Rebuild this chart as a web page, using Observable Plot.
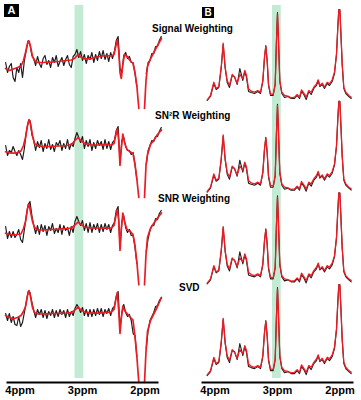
<!DOCTYPE html>
<html><head><meta charset="utf-8">
<script src="https://cdn.jsdelivr.net/npm/d3@7"></script>
<script src="https://cdn.jsdelivr.net/npm/@observablehq/plot@0.6"></script>
<style>
html,body{margin:0;padding:0;background:#fff;}
#wrap{position:relative;width:361px;height:400px;font-family:"Liberation Sans",Arial,sans-serif;overflow:hidden}
#wrap svg{position:absolute;left:0;top:0;overflow:visible}
.lbl{position:absolute;font-size:10px;font-weight:bold;line-height:10px;white-space:nowrap;color:#000}
.tag{position:absolute;background:#000;color:#fff;font-weight:bold;text-align:center}
</style></head><body><div id="wrap"></div>
<script>
// ---------- data ----------
const panels = ["A", "B"];
const rowNames = ["Signal Weighting", "SN²R Weighting", "SNR Weighting", "SVD"];
const tickPpm = [4, 3, 2];
const bandStart = [3.12, 3.08];
const bandEnd = [2.98, 2.94];

// Panel A: smooth (red) curves
const ppmARed = [4.232, 4.168, 4.104, 4.04, 3.984, 3.944, 3.912, 3.88, 3.856, 3.832, 3.8, 3.768, 3.72, 3.64, 3.512, 3.384, 3.256, 3.176, 3.12, 3.072, 3.024, 2.968, 2.872, 2.744, 2.616, 2.536, 2.496, 2.464, 2.443, 2.421, 2.4, 2.379, 2.355, 2.328, 2.288, 2.24, 2.192, 2.16, 2.128, 2.099, 2.056, 2.008, 1.984, 1.96, 1.912, 1.856, 1.8, 1.736];
const redASignal = [-7, -9, -7.5, -6, -4.5, 1, 9, 18, 20.5, 15, 5, 1, -1, -1, -0.7, 0, 1, 1.5, 3.5, 7, 4.5, 2.7, 2.7, 5, 6, 5.5, 7, 16, 21.5, 11, -11, -17, -3, 7, 5, 1, -2, -11, -26, -47, null, -47, -19, -5, 2.7, 9.5, 16, 23];
const redASN2R = [-6.3, -7.5, -7.7, -7, -5.5, 0, 8, 20, 26, 22, 10, 2, -0.3, -1, -1, -0.5, 0, 1, 5, 8, 5, 2, 0.5, 0.5, 1, 0.5, 2, 11, 16.5, 5, -20, -3, 11.5, 3, -4, -6.3, -8, -19, -35, -52, null, -52, -20, -9, 1, 5.5, 11, 15.5];
const redASNR = [-3.7, -5, -5.3, -5, -4.5, 1, 8, 21, 25.5, 18, 8, 2, -0.3, -0.5, 0, 0.5, 1, 1.5, 4.5, 7.3, 5, 2.5, 1.5, 1.5, 1.3, 1.5, 4, 14, 20, 9, -21, 0, 16.5, 8, 0, -1.5, -5, -16, -34, -55.3, null, -55.3, -25, -8, 1.3, 6.5, 11.5, 16.5];
const redASVD = [-2, -4, -5.3, -4, -2, 2, 7, 18, 23, 17, 6, 1, -0.3, -0.5, 0, 0, 0.5, 1, 3.5, 6.3, 3.5, 1.5, 0.5, 0.3, 1, 1.5, 4, 15, 21, 3, -20, -5, 7.5, 3, 0, -3.5, -6.5, -23, -45, -69, null, -69, -38, -18, -7, 0, 7, 16];

// Panel A: noisy (black) curves
const ppmABlack = [4.23, 4.20, 4.17, 4.14, 4.11, 4.08, 4.05, 4.02, 3.99, 3.96, 3.93, 3.90, 3.87, 3.84, 3.81, 3.78, 3.75, 3.72, 3.69, 3.66, 3.63, 3.60, 3.57, 3.54, 3.51, 3.48, 3.45, 3.42, 3.39, 3.36, 3.33, 3.30, 3.27, 3.24, 3.21, 3.18, 3.15, 3.12, 3.09, 3.06, 3.03, 3.00, 2.97, 2.94, 2.91, 2.88, 2.85, 2.82, 2.79, 2.76, 2.73, 2.70, 2.67, 2.64, 2.61, 2.58, 2.55, 2.52, 2.49, 2.46, 2.43, 2.40, 2.37, 2.34, 2.31, 2.28, 2.25, 2.22, 2.19, 2.16, 2.13, 2.10, 2.07, 2.04, 2.01, 1.98, 1.95, 1.92, 1.89, 1.86, 1.83, 1.80, 1.77, 1.74];
const blackASignal = [-1, -11, -5, -2, -16, -20, -6, -11, -2, -16, 1, 11, 21, 17, 6, 3,
  -4, 5, -2, -6, 3, 6, -3, 1, -6, 4, -1, 6, -5, 0, 4, -4, 2, 6, -3, -6, 5, 7, 12, 4, 10, 1, 7, -2, 6, 2, 9, -1, 7, 1, 10, 3, 11, 2, 8, 0, 9, 3, 10,
  21, 25, -7, -11, 6, 9, 3, 5, -1, -1, -12, -25, null, null, null, null, -12, -1, 1, 8, 8, 15, 15, 21, 25];
const blackASN2R = [0, -10, -5, -7, -1, -6, -10, -5, -9, -14, -3, 13, 23, 25, 11, 5,
  -5, 4, -2, 5, -6, 2, -3, 6, -4, 1, -6, 3, 0, 5, -5, 2, -3, 6, -4, 2, -1, 7, 13, 8, 3, 9, -3, 5, -1, 6, -5, 3, -3, 5, 0, 4, -4, 6, -3, 4, -4, 3, 5,
  15, 19, -17, 5, 8, -1, -5, -5, -9, -7, -19, -34, null, null, null, null, -19, -5, 0, 5, 4, 9, 9, 14, 18];
const blackASNR = [3, -9, -2, -8, -2, -8, -5, 0, -10, -13, 0, 13, 25, 28, 14, 4,
  -4, 4, -5, 5, -2, 4, -6, 3, -1, 6, -4, 1, -3, 5, -5, 4, -1, 2, -6, 3, -3, 8, 13, 8, 4, 9, -1, 6, -3, 7, -3, 5, 0, 6, -3, 5, -2, 6, 0, 5, -3, 4, 7,
  19, 23, -18, 8, 14, 2, -3, 0, -6, -6, -18, -34, null, null, null, null, -22, -9, -1, 4, 4, 11, 10, 16, 19];
const blackASVD = [0, -7, 0, -9, -3, -11, -12, -3, -13, -9, 1, 11, 22, 21, 11, 3,
  -4, 4, -1, 4, -4, 3, -5, 2, -2, 4, -4, 3, -3, 4, -1, 3, -4, 4, -3, 2, -2, 5, 9, 6, 1, 6, -2, 4, -3, 4, -3, 4, -2, 5, -1, 5, -3, 4, 0, 5, -2, 5, 7,
  17, 22, -15, 1, 9, 1, -3, -1, -7, -20, -22, -43, null, null, null, null, -35, -17, -7, -3, 1, 7, 8, 13, 16];

// Panel B: spectrum (same in every row)
const ppmB = [4.125, 4.072, 4.019, 3.981, 3.939, 3.901, 3.869, 3.837, 3.805, 3.768, 3.725, 3.688, 3.645, 3.603, 3.555, 3.523, 3.496, 3.464, 3.421, 3.368, 3.315, 3.272, 3.235, 3.208, 3.187, 3.165, 3.144, 3.112, 3.069, 3.037, 3.016, 3.0, 2.984, 2.963, 2.931, 2.888, 2.835, 2.781, 2.728, 2.685, 2.648, 2.616, 2.579, 2.541, 2.499, 2.461, 2.419, 2.376, 2.349, 2.323, 2.285, 2.248, 2.205, 2.168, 2.125, 2.088, 2.056, 2.035, 2.019, 2.003, 1.987, 1.965, 1.939, 1.907, 1.859, 1.821];
const redB = [-2.3, 2, 15.3, 9, 11, 30.3, 54.3, 30.3, 17, 12, 23, 20.3, 14.3, 23, 19, 27, 22, 8.7, 6.3, 5.3, 7, 5.3, 17, 40.3, 51, 37, 13.7, 3.7, 3, 13.7, 57, 83.7, 57, 17, 5.3, 2, 1.3, -0.3, 0.3, 3, 0.3, 7.7, 4.3, 0.3, 7, 5.3, 10.3, 13.7, 17.7, 12, 14.3, 10.3, 15.3, 13.7, 17.7, 25.3, 43.7, 70.3, 87.7, 87.7, 67, 33.7, 10.3, 5.3, 2, 0.3];
const blackB = [-3, 1, 14, 8, 10, 29, 53, 29, 15, 10, 22, 21, 13, 29, 17, 26, 20, 6, 5, 4, 6, 4, 16, 40, 52, 36, 12, 2, 2, 13, 58, 85, 56, 16, 4, 0, 1, -1, -1, 2, -1, 6, 3, -2, 6, 3, 9, 12, 17, 11, 13, 9, 14, 12, 16, 24, 43, 70, 88, 88, 66, 33, 9, 4, 1, -1];

// ---------- layout ----------
const stepA = 84, topA = 321;      // row stacking offsets (y units)
const stepB = 91.7, topB = 285;
const labelPos = [[152, 23.5], [155, 110.5], [158, 193.5], [179, 282.5]];

const redA = [redASignal, redASN2R, redASNR, redASVD];
const blackA = [blackASignal, blackASN2R, blackASNR, blackASVD];

function build(panel, ppm, values, row, base) {
  return ppm.map((p, k) => ({panel, row, ppm: p, y: values[k] == null ? null : values[k] + base}));
}
const blackData = [], redData = [];
rowNames.forEach((name, i) => {
  blackData.push(...build("A", ppmABlack, blackA[i], name, topA - stepA * i));
  redData.push(...build("A", ppmARed, redA[i], name, topA - stepA * i));
  blackData.push(...build("B", ppmB, blackB, name, topB - stepB * i));
  redData.push(...build("B", ppmB, redB, name, topB - stepB * i));
});
const bands = panels.map((p, i) => ({panel: p, x1: bandStart[i], x2: bandEnd[i]}));

const chart = Plot.plot({
  width: 361, height: 400,
  marginLeft: 7, marginRight: 9, marginTop: 5, marginBottom: 18,
  style: {fontFamily: "'Liberation Sans', Arial, sans-serif", background: "transparent", overflow: "visible"},
  fx: {domain: panels, padding: 0.2308, axis: null},
  x: {domain: [4.2, 1.8]},
  y: {domain: [0, 377], axis: null},
  marks: [
    Plot.rectX(bands, {x1: "x1", x2: "x2", fx: "panel", fill: "#c3ebd3", insetBottom: 4}),
    Plot.line(blackData.filter(d => d.panel === "A"), {x: "ppm", y: "y", z: "row", fx: "panel", stroke: "#1c1c1c", strokeWidth: 1.2, strokeLinejoin: "round"}),
    Plot.line(blackData.filter(d => d.panel === "B"), {x: "ppm", y: "y", z: "row", fx: "panel", stroke: "#1c1c1c", strokeWidth: 1.1, strokeLinejoin: "round"}),
    Plot.line(redData.filter(d => d.panel === "A"), {x: "ppm", y: "y", z: "row", fx: "panel", stroke: "#ed1c24", strokeWidth: 1.7, strokeLinejoin: "round"}),
    Plot.line(redData.filter(d => d.panel === "B"), {x: "ppm", y: "y", z: "row", fx: "panel", stroke: "#ed1c24", strokeWidth: 1.3, strokeLinejoin: "round"}),
    Plot.frame({anchor: "bottom", stroke: "#000", strokeWidth: 2}),
    Plot.axisX({ticks: tickPpm, tickFormat: d => d + "ppm", tickSize: 0, tickPadding: 4, fontSize: 11, fontWeight: "bold", fill: "#000", label: null})
  ]
});

const wrap = document.getElementById("wrap");
wrap.appendChild(chart);

rowNames.forEach((name, i) => {
  const d = document.createElement("div");
  d.className = "lbl";
  d.style.left = labelPos[i][0] + "px";
  d.style.top = labelPos[i][1] + "px";
  d.textContent = name;
  wrap.appendChild(d);
});
const tagStyles = [
  {left: 4, top: 4, w: 15, h: 13, fs: 11},
  {left: 202, top: 7, w: 12, h: 11, fs: 10}
];
panels.forEach((p, i) => {
  const t = document.createElement("div");
  const s = tagStyles[i];
  t.className = "tag";
  t.style.left = s.left + "px"; t.style.top = s.top + "px";
  t.style.width = s.w + "px"; t.style.height = s.h + "px";
  t.style.fontSize = s.fs + "px"; t.style.lineHeight = s.h + "px";
  t.textContent = p;
  wrap.appendChild(t);
});
</script></body></html>
